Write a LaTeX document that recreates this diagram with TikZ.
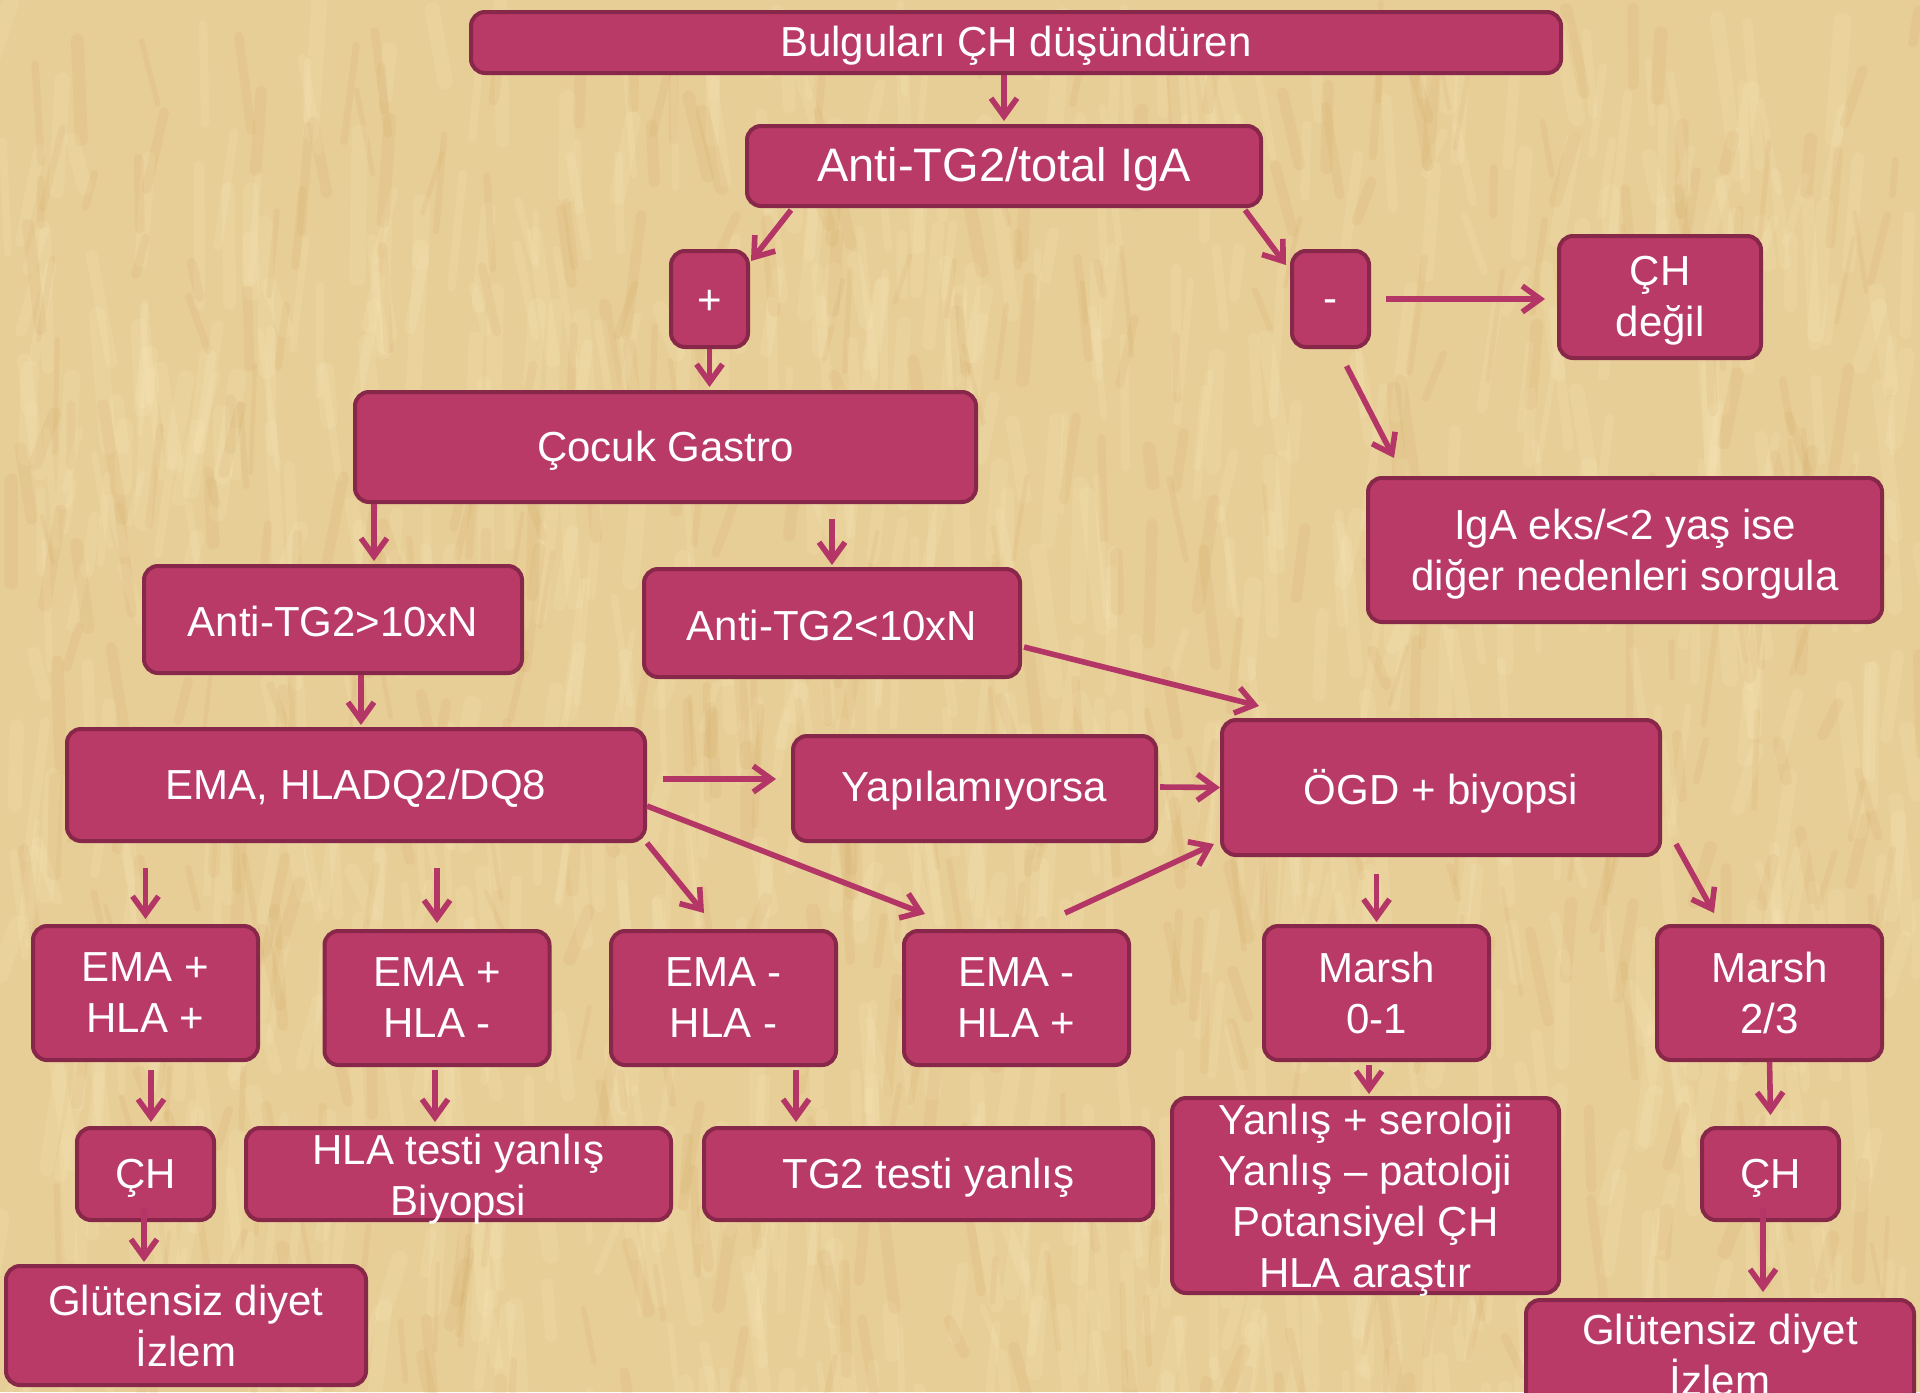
\documentclass[tikz,border=0pt]{standalone}
\usepackage{fontspec}
\setmainfont{Liberation Sans}
\usetikzlibrary{arrows.meta,calc}
\definecolor{boxfill}{RGB}{185,58,102}
\definecolor{bord}{RGB}{135,40,75}
\definecolor{arrcol}{RGB}{180,54,102}
\definecolor{bg}{RGB}{231,205,150}
\definecolor{wlight}{RGB}{248,230,185}
\definecolor{wdark}{RGB}{205,160,90}
\newcommand\fs{\fontsize{21}{25.5}\selectfont}
% box: [text shift px]{name}{w pt}{h pt}{x,y}{text}
\newcommand\bx[6][4]{%
  \node[box, minimum width=#3pt, minimum height=#4pt] (#2) at (#5) {};
  \node[txt] (#2t) at ($(#2.center)+(0,#1)$) {#6};}
\begin{document}
\begin{tikzpicture}[x=0.5pt,y=-0.5pt,
  box/.style={draw=bord, fill=boxfill, line width=2pt, rounded corners=7pt, inner sep=0pt},
  txt/.style={text=white, align=center, font=\fs, inner sep=0pt},
  arr/.style={draw=arrcol, line width=2.8pt, -{Straight Barb[length=9pt,width=13pt]}}]
\clip (0,0) rectangle (1920,1392);
\fill[bg] (0,0) rectangle (1920,1392);
% wheat texture
\pgfmathsetseed{11}
\foreach \i in {1,...,900}{
  \pgfmathsetmacro\xx{rnd*1920}
  \pgfmathsetmacro\yy{rnd*1392}
  \pgfmathsetmacro\ll{40+rnd*110}
  \pgfmathsetmacro\dd{(rnd-0.5)*40}
  \pgfmathsetmacro\ww{3+rnd*6}
  \draw[wlight, opacity=0.2, line width=\ww pt, line cap=round] (\xx,\yy) -- ++(\dd,\ll);
}
\foreach \i in {1,...,500}{
  \pgfmathsetmacro\xx{rnd*1920}
  \pgfmathsetmacro\yy{rnd*1392}
  \pgfmathsetmacro\ll{30+rnd*90}
  \pgfmathsetmacro\dd{(rnd-0.5)*40}
  \pgfmathsetmacro\ww{2+rnd*5}
  \draw[wdark, opacity=0.12, line width=\ww pt, line cap=round] (\xx,\yy) -- ++(\dd,\ll);
}

% nodes
\bx[3]{b1}{545}{30.5}{1016,42.5}{Bulguları ÇH düşündüren}
\node[box, minimum width=257pt, minimum height=40pt] (b2) at (1004,166) {};
\node[txt, font=\fontsize{23.5}{27}\selectfont] (b2t) at ($(b2.center)+(0,3)$) {Anti-TG2/total IgA};
\bx[3]{plus}{38.5}{48}{709.5,299}{+}
\bx[7]{minus}{38.5}{48}{1330.5,299}{-}
\bx{chd}{101}{61}{1660,297}{ÇH\\değil}
\bx{coc}{310.5}{55}{665.5,447}{Çocuk Gastro}
\bx{iga}{257}{72}{1625,550}{IgA eks/<2 yaş ise\\diğer nedenleri sorgula}
\bx[2]{gt}{189}{53.5}{333,619.5}{Anti-TG2>10xN}
\bx[2]{lt}{188}{54}{832,623}{Anti-TG2<10xN}
\bx[3]{ema}{289}{56}{356,785}{EMA, HLADQ2/DQ8}
\bx[2]{yap}{181.5}{52.5}{974.5,788.5}{Yapılamıyorsa}
\bx[4]{ogd}{219}{67.5}{1441,787.5}{ÖGD + biyopsi}
\bx[0]{epp}{112.5}{67}{145.5,993}{EMA +\\HLA +}
\bx[0]{epm}{112.5}{67}{437,998}{EMA +\\HLA -}
\bx[0]{emm}{112.5}{67}{723.5,998}{EMA -\\HLA -}
\bx[0]{emp}{112.5}{67}{1016.5,998}{EMA -\\HLA +}
\bx[0]{m01}{112.5}{67}{1376.5,993}{Marsh\\0-1}
\bx[0]{m23}{112.5}{67}{1769.5,993}{Marsh\\2/3}
\bx{chl}{68.5}{46}{145.5,1174}{ÇH}
\bx[5]{hla}{212.5}{46}{458.5,1174}{HLA testi yanlış\\Biyopsi}
\bx{tg2}{224.5}{46}{928.5,1174}{TG2 testi yanlış}
\bx[5]{yan}{193.5}{97.5}{1365.5,1195.5}{Yanlış + seroloji\\Yanlış – patoloji\\Potansiyel ÇH\\HLA araştır}
\bx{chr}{68.5}{46}{1770.5,1174}{ÇH}
\bx[0]{gll}{180}{59.5}{186,1325.5}{Glütensiz diyet\\İzlem}
\bx[0]{glr}{194}{55}{1720,1355}{Glütensiz diyet\\İzlem}

% connector end points
\coordinate (a1s) at (b1.south -| b2.north);
\coordinate (a2s) at ($(b2.south west)+(46,2)$);
\coordinate (a2e) at ($(plus.north east)+(1,12)$);
\coordinate (a3s) at ($(b2.south east)+(-18,2)$);
\coordinate (a3e) at ($(minus.north west)+(-4,16)$);
\coordinate (a5s) at ($(minus.east)+(15,0)$);
\coordinate (a5e) at ($(chd.west)+(-12,2)$);
\coordinate (a6s) at ($(minus.south)+(16,17)$);
\coordinate (a6e) at ($(iga.north west)+(28,-18)$);
\coordinate (a7s) at ($(coc.south west)+(21,0)$);
\coordinate (a8s) at ($(lt.north |- coc.south)+(0,15)$);
\coordinate (a9s) at ($(lt.east)+(2,24)$);
\coordinate (a9e) at ($(ogd.north west)+(39,-12)$);
\coordinate (a10s) at ($(gt.south)+(28,0)$);
\coordinate (a11s) at ($(ema.east)+(16,-6)$);
\coordinate (a11e) at ($(yap.west)+(-15,-9.5)$);
\coordinate (a12s) at ($(yap.east)+(2,-1.5)$);
\coordinate (a13s) at (ema.south east);
\coordinate (a13e) at ($(emm.north)+(-19.5,-16)$);
\coordinate (a14s) at ($(ema.east)+(0,21)$);
\coordinate (a14e) at ($(emp.north west)+(23,-15)$);
\coordinate (a15s) at ($(emp.north)+(48.5,-16)$);
\coordinate (a15e) at ($(ogd.south west)+(-6,-13)$);
\coordinate (a16s) at ($(epp.north |- ema.south)+(0,25)$);
\coordinate (a17s) at ($(epm.north |- ema.south)+(0,25)$);
\coordinate (a18s) at ($(m01.north |- ogd.south)+(0,17)$);
\coordinate (a19s) at ($(ogd.south east)+(14,-13)$);
\coordinate (a19e) at ($(m23.north)+(-55.5,-11)$);
\coordinate (a20s) at ($(epp.south)+(5.5,8)$);
\coordinate (a21s) at ($(epm.south)+(-2,3)$);
\coordinate (a22s) at ($(emm.south)+(72.5,3)$);
\coordinate (a23s) at ($(m01.south)+(-7.5,3)$);
\coordinate (a25s) at ($(chl.south)+(-1.5,-14)$);
\coordinate (a26s) at ($(chr.south)+(-7.5,-14)$);

% connectors
\draw[arr] (a1s) -- ($(b2.north)+(0,-3)$);
\draw[arr] (a2s) -- (a2e);
\draw[arr] (a3s) -- (a3e);
\draw[arr] (plus.south) -- ($(plus.south |- coc.north)+(0,-3)$);
\draw[arr] (a5s) -- (a5e);
\draw[arr] (a6s) -- (a6e);
\draw[arr] (a7s) -- ($(a7s |- gt.north)+(0,-3)$);
\draw[arr] (a8s) -- ($(lt.north)+(0,-2)$);
\draw[arr] (a9s) -- (a9e);
\draw[arr] (a10s) -- ($(a10s |- ema.north)+(0,-2)$);
\draw[arr] (a11s) -- (a11e);
\draw[arr] (a12s) -- (ogd.west);
\draw[arr] (a13s) -- (a13e);
\draw[arr] (a14s) -- (a14e);
\draw[arr] (a15s) -- (a15e);
\draw[arr] (a16s) -- ($(epp.north)+(0,-5)$);
\draw[arr] (a17s) -- ($(epm.north)+(0,-6)$);
\draw[arr] (a18s) -- ($(m01.north)+(0,-2)$);
\draw[arr] (a19s) -- (a19e);
\draw[arr] (a20s) -- ($(chl.north)+(5.5,-4)$);
\draw[arr] (a21s) -- ($(a21s |- hla.north)+(0,-4)$);
\draw[arr] (a22s) -- ($(a22s |- tg2.north)+(0,-4)$);
\draw[arr] (a23s) -- ($(a23s |- yan.north)+(0,-2)$);
\draw[arr] (m23.south) -- ($(chr.north)+(0,-11)$);
\draw[arr] (a25s) -- ($(a25s |- gll.north)+(0,-2)$);
\draw[arr] (a26s) -- ($(a26s |- glr.north)+(0,-6)$);
\end{tikzpicture}
\end{document}
